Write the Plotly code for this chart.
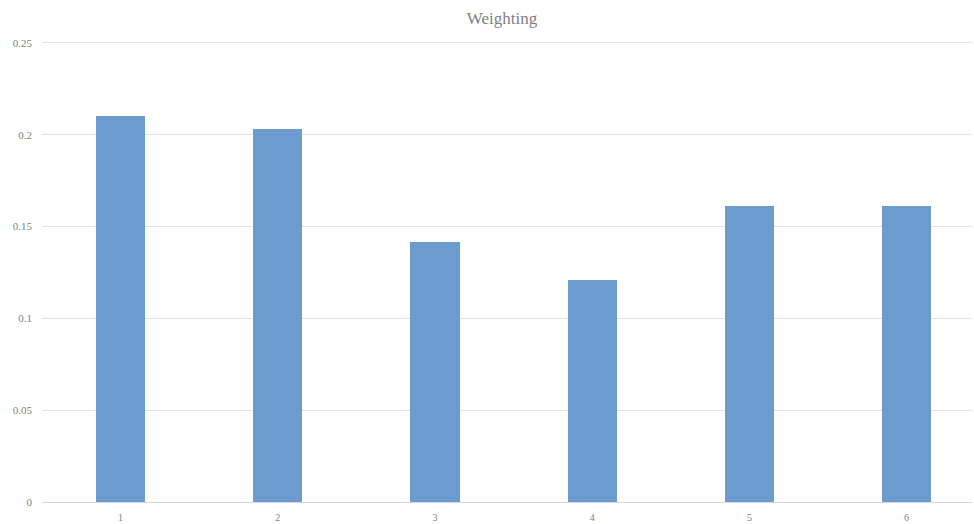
import plotly.graph_objects as go

categories = [1, 2, 3, 4, 5, 6]
weights = [0.2102, 0.2032, 0.1416, 0.1209, 0.1612, 0.1612]
y_ticks = [0, 0.05, 0.1, 0.15, 0.2, 0.25]
y_tick_labels = ["0", "0.05", "0.1", "0.15", "0.2", "0.25"]

fig = go.Figure(go.Bar(x=categories, y=weights, width=0.312,
                       marker=dict(color="#6C9CCF", line=dict(width=0))))

fig.update_layout(
    width=974, height=524,
    margin=dict(l=42, r=2, t=40, b=22),
    plot_bgcolor="white", paper_bgcolor="white",
    font=dict(family="Liberation Serif", color="#7f7f7f", size=10),
    title=dict(text="Weighting", x=0.4946, xref="paper", xanchor="center", y=0.965, yanchor="middle",
               font=dict(family="Liberation Serif", size=17, color="#7f7f7f")),
    showlegend=False,
    bargap=0,
)
fig.update_xaxes(range=[0.5, 6.416], tickvals=categories, ticktext=[str(c) for c in categories],
                 showgrid=False, zeroline=False, showline=True, linecolor="#d9d9d9", linewidth=1,
                 ticks="", ticklabelstandoff=6, tickfont=dict(size=10, color="#7f7f7f"))
fig.update_yaxes(range=[0, 0.2516], tickvals=y_ticks, ticktext=y_tick_labels,
                 showgrid=True, gridcolor="#e3e3e3", gridwidth=1, zeroline=False,
                 showline=False, ticks="", ticklabelstandoff=9,
                 tickfont=dict(size=11, color="#7f7f7f"))

fig.write_html("out.html")
